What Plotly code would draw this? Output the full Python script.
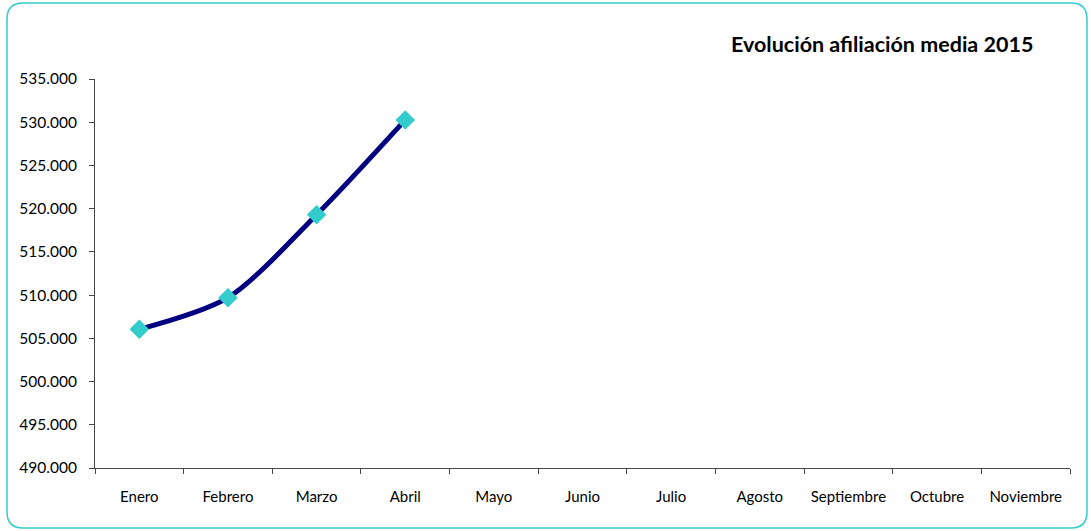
import plotly.graph_objects as go

months = ["Enero", "Febrero", "Marzo", "Abril", "Mayo", "Junio", "Julio",
          "Agosto", "Septiembre", "Octubre", "Noviembre"]
afiliacion = [506040, 509700, 519300, 530270]
title_text = "Evolución afiliación media 2015"

W, H = 1091, 531
ml, mr, mt, mb = 95, 21, 79, 63

fig = go.Figure()
fig.add_trace(go.Scatter(
    x=months[:len(afiliacion)], y=afiliacion, mode="lines+markers",
    line=dict(color="#000080", width=5, shape="spline", smoothing=0.8),
    marker=dict(symbol="diamond", size=15, color="#33CCCC"),
    showlegend=False, hoverinfo="skip",
))

font = "Lato, 'Open Sans', sans-serif"

# rounded border in pixel coords relative to plot-area bottom-left
x0, x1 = 7 - ml, 1087 - ml
y0, y1 = -(528 - (H - mb)), (H - mb) - 3
r = 16
path = (f"M {x0+r},{y1} L {x1-r},{y1} Q {x1},{y1} {x1},{y1-r} "
        f"L {x1},{y0+r} Q {x1},{y0} {x1-r},{y0} L {x0+r},{y0} "
        f"Q {x0},{y0} {x0},{y0+r} L {x0},{y1-r} Q {x0},{y1} {x0+r},{y1} Z")
fig.add_shape(type="path", path=path, xref="paper", yref="paper",
              xsizemode="pixel", ysizemode="pixel", xanchor=0, yanchor=0,
              line=dict(color="#33CCCC", width=1.5), layer="below")

fig.update_layout(
    width=W, height=H, margin=dict(l=ml, r=mr, t=mt, b=mb),
    paper_bgcolor="white", plot_bgcolor="white",
    font=dict(family=font, size=15, color="#000000"),
    annotations=[dict(text=f"<b>{title_text}</b>", xref="paper", yref="paper",
                      x=(1035 - ml) / (W - ml - mr), y=1 + (mt - 44) / (H - mt - mb),
                      xanchor="right", yanchor="middle", showarrow=False,
                      font=dict(family=font, size=21.5, color="#000000"))],
    xaxis=dict(type="category", categoryorder="array", categoryarray=months,
               tickvals=months, ticktext=months,
               range=[-0.5, len(months) - 0.5], tickson="boundaries",
               ticks="outside", ticklen=5, tickcolor="#444", showgrid=False,
               showline=True, linecolor="#444", linewidth=1, zeroline=False,
               tickfont=dict(size=15), ticklabelstandoff=15),
    yaxis=dict(range=[490000, 535000], tickvals=list(range(490000, 535001, 5000)),
               ticktext=[f"{v//1000}.000" for v in range(490000, 535001, 5000)],
               ticks="outside", ticklen=5, tickcolor="#444", showgrid=False,
               showline=True, linecolor="#444", linewidth=1, zeroline=False,
               tickfont=dict(size=15.5), ticklabelstandoff=9),
)
fig.write_html("out.html", config={"displayModeBar": False},
               post_script="document.body.style.margin='0';")
